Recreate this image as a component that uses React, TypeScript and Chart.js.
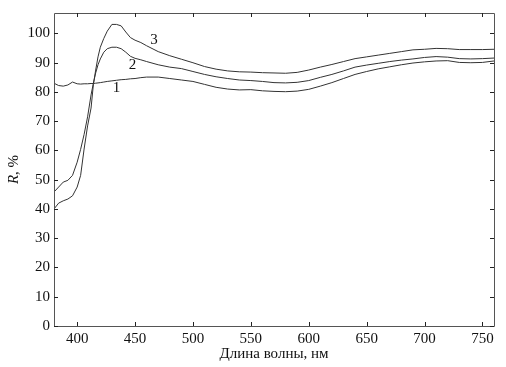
import React, { useEffect, useRef } from "react";
import { Chart, registerables } from "chart.js";

Chart.register(...registerables);

const wavelengths = [380,384,388,392,396,400,403,406,409,412,414,416,418,420,423,426,430,434,438,442,446,450,455,460,470,480,490,500,510,520,530,540,550,560,570,580,590,600,610,620,630,640,650,660,670,680,690,700,710,720,730,740,750,760];

const curve1 = [83.0,82.2,82.0,82.4,83.4,82.8,82.7,82.8,82.8,82.9,82.9,83.0,83.1,83.2,83.4,83.6,83.8,84.0,84.2,84.3,84.5,84.6,84.9,85.1,85.1,84.6,84.1,83.6,82.6,81.6,81.0,80.7,80.8,80.4,80.2,80.1,80.3,80.9,82.0,83.2,84.6,86.0,87.0,87.9,88.6,89.3,89.9,90.3,90.6,90.7,90.1,90.0,90.1,90.6];

const curve2 = [45.8,47.5,49.2,49.8,51.5,56.0,60.4,65.5,71.5,79.0,83.0,86.5,89.3,91.3,93.6,94.8,95.3,95.3,94.8,93.6,92.2,91.5,91.0,90.4,89.3,88.5,88.0,87.0,86.0,85.2,84.6,84.1,83.9,83.6,83.2,83.1,83.3,83.9,85.0,86.0,87.2,88.5,89.2,89.8,90.4,90.9,91.3,91.8,92.1,91.9,91.4,91.3,91.4,91.6];

const curve3 = [40.0,42.0,42.8,43.4,44.5,47.5,51.5,60.5,68.4,74.5,82.5,87.5,92.0,95.3,98.3,100.8,103.1,103.1,102.6,100.5,98.6,97.7,96.9,95.8,93.8,92.4,91.2,90.0,88.7,87.8,87.2,86.9,86.8,86.6,86.5,86.4,86.7,87.5,88.5,89.4,90.4,91.4,92.0,92.6,93.2,93.8,94.4,94.6,94.9,94.8,94.5,94.5,94.5,94.6];

const xTicks = [400, 450, 500, 550, 600, 650, 700, 750];
const yTicks = [0, 10, 20, 30, 40, 50, 60, 70, 80, 90, 100];

const curveLabels = ["1", "2", "3"];
const labelX = [433.9, 447.7, 466.4];
const labelY = [81.3, 89.2, 97.7];

const xTitle = "Длина волны, нм";

const FONT = "'Liberation Serif', 'DejaVu Serif', serif";
const FS = 15;

const framePlugin = {
  id: "framePlugin",
  afterDraw(chart: any) {
    const { ctx, chartArea } = chart;
    const xs = chart.scales.x;
    const ys = chart.scales.y;
    const { left, right, top, bottom } = chartArea;
    ctx.save();
    ctx.strokeStyle = "#555";
    ctx.lineWidth = 1;
    ctx.beginPath();
    ctx.rect(Math.round(left) + 0.5, Math.round(top) + 0.5, Math.round(right - left), Math.round(bottom - top));
    ctx.stroke();
    ctx.strokeStyle = "#222";
    const tl = 4;
    ctx.beginPath();
    xTicks.forEach((v) => {
      const px = Math.round(xs.getPixelForValue(v)) + 0.5;
      ctx.moveTo(px, bottom);
      ctx.lineTo(px, bottom - tl);
      ctx.moveTo(px, top);
      ctx.lineTo(px, top + tl);
    });
    yTicks.forEach((v) => {
      const py = Math.round(ys.getPixelForValue(v)) + 0.5;
      ctx.moveTo(left, py);
      ctx.lineTo(left + tl, py);
      ctx.moveTo(right, py);
      ctx.lineTo(right - tl, py);
    });
    ctx.stroke();

    ctx.fillStyle = "#111";
    ctx.font = `${FS}px ${FONT}`;
    ctx.textAlign = "center";
    ctx.textBaseline = "middle";
    curveLabels.forEach((t, i) => {
      ctx.fillText(t, xs.getPixelForValue(labelX[i]), ys.getPixelForValue(labelY[i]));
    });

    ctx.fillText(xTitle, (left + right) / 2, 354);

    ctx.save();
    ctx.translate(14, (top + bottom) / 2);
    ctx.rotate(-Math.PI / 2);
    ctx.textAlign = "left";
    ctx.font = `italic ${FS}px ${FONT}`;
    const rW = ctx.measureText("R").width;
    ctx.font = `${FS}px ${FONT}`;
    const restW = ctx.measureText(", %").width;
    const total = rW + restW;
    ctx.font = `italic ${FS}px ${FONT}`;
    ctx.fillText("R", -total / 2, 0);
    ctx.font = `${FS}px ${FONT}`;
    ctx.fillText(", %", -total / 2 + rW, 0);
    ctx.restore();
    ctx.restore();
  },
};

export default function App() {
  const ref = useRef<HTMLCanvasElement>(null);
  useEffect(() => {
    if (!ref.current) return;
    const mk = (vals: number[]) => wavelengths.map((w, i) => ({ x: w, y: vals[i] }));
    const ds = (vals: number[]) => ({
      data: mk(vals),
      borderColor: "#333",
      borderWidth: 1,
      pointRadius: 0,
      tension: 0,
      fill: false,
    });
    const chart = new Chart(ref.current, {
      type: "line",
      data: { datasets: [ds(curve1), ds(curve2), ds(curve3)] },
      options: {
        animation: false,
        responsive: true,
        maintainAspectRatio: false,
        layout: { padding: { left: 0, top: 9, right: 12, bottom: 0 } },
        plugins: { legend: { display: false }, tooltip: { enabled: false } },
        scales: {
          x: {
            type: "linear",
            min: 380,
            max: 760,
            grid: { display: false, drawTicks: false },
            border: { display: false },
            afterBuildTicks: (s: any) => {
              s.ticks = xTicks.map((v) => ({ value: v }));
            },
            afterFit: (s: any) => {
              s.height = 41;
            },
            ticks: {
              padding: 4,
              color: "#111",
              font: { family: FONT, size: FS },
              maxRotation: 0,
              autoSkip: false,
            },
          },
          y: {
            type: "linear",
            min: 0,
            max: 107,
            grid: { display: false, drawTicks: false },
            border: { display: false },
            afterBuildTicks: (s: any) => {
              s.ticks = yTicks.map((v) => ({ value: v }));
            },
            afterFit: (s: any) => {
              s.width = 54;
            },
            ticks: {
              padding: 4,
              color: "#111",
              font: { family: FONT, size: FS },
              autoSkip: false,
            },
          },
        },
      },
      plugins: [framePlugin],
    });
    return () => chart.destroy();
  }, []);
  return (
    <div style={{ position: "absolute", left: 0, top: 0, width: 506, height: 367, background: "#fff" }}>
      <canvas ref={ref} />
    </div>
  );
}
